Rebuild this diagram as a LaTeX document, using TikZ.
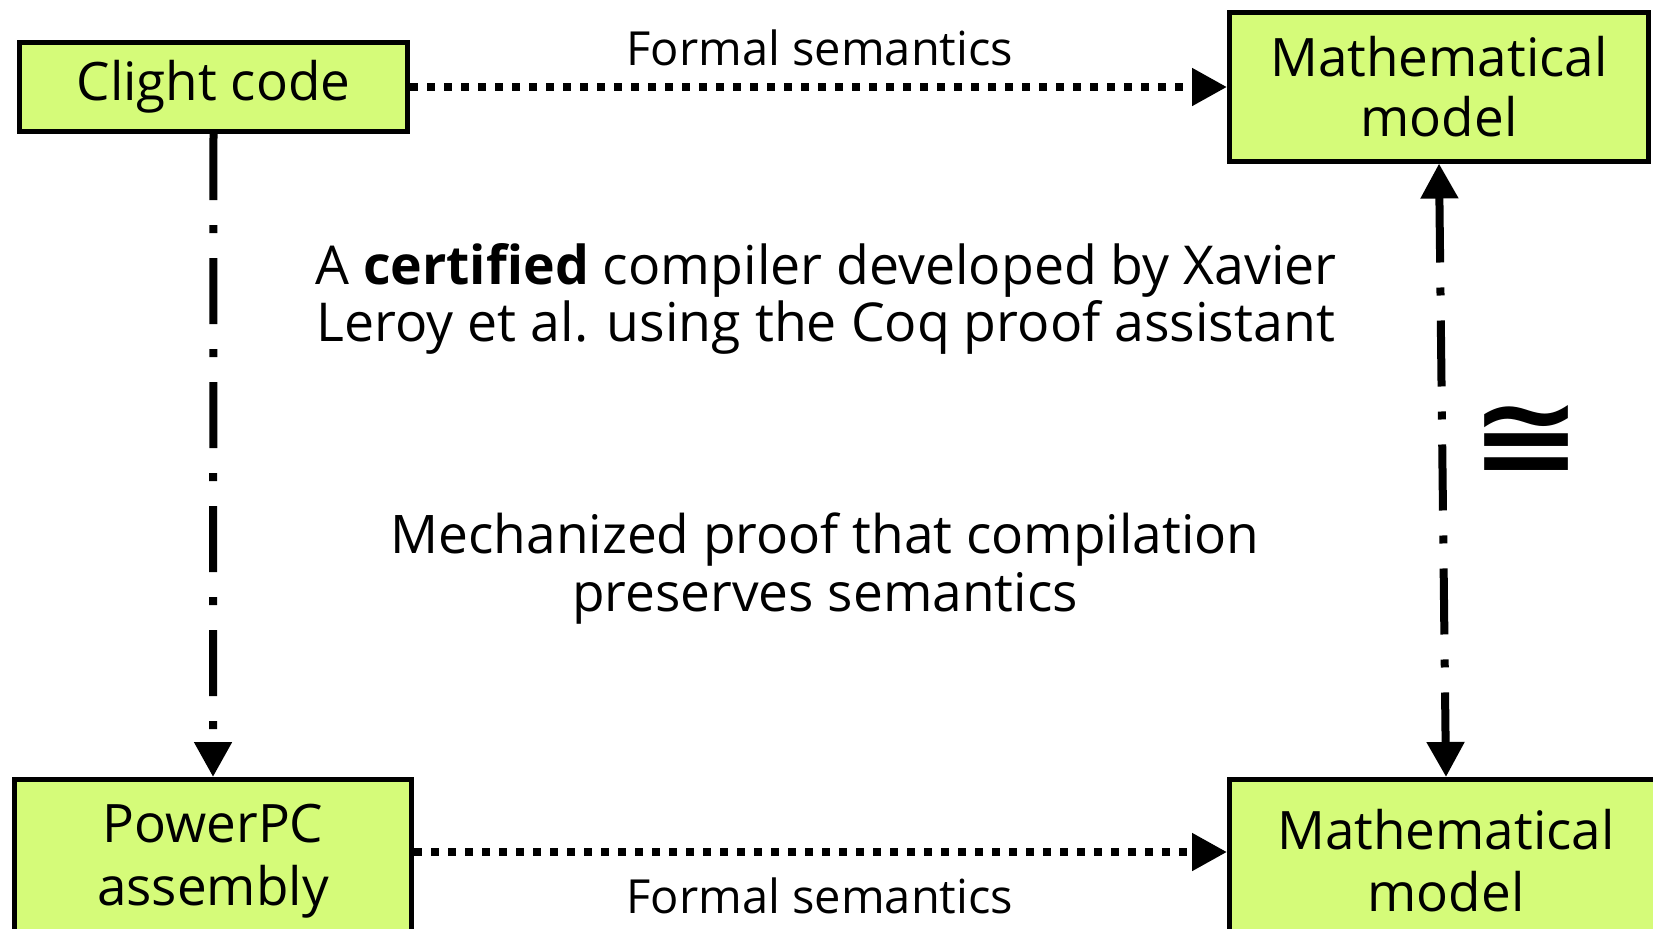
\documentclass[tikz,border=0pt]{standalone}
\usepackage{fontspec}
\setmainfont{Open Sans}
\newfontfamily\symfont{DejaVu Sans}
\usepackage{graphicx}
\usetikzlibrary{arrows.meta}
\definecolor{boxgreen}{HTML}{D5FB79}

\begin{document}
\begin{tikzpicture}[
  x=0.5pt, y=-0.5pt,
  box/.style={draw, fill=boxgreen, line width=2.5pt, rectangle, align=center, inner sep=0pt, font=\fontsize{26.5}{30}\selectfont},
  sem/.style={line width=4pt, dash pattern=on 4pt off 4.5pt, -{Triangle[length=17.5pt, width=18pt]}},
  comp/.style={line width=4pt, dash pattern=on 33pt off 12.5pt on 4pt off 12.5pt, -{Triangle[length=17.5pt, width=18pt]}},
  lbl/.style={align=center, font=\fontsize{23.5}{28.5}\selectfont}
]
\useasboundingbox (0,0) rectangle (1653,928);
\node[box, minimum width=194pt, minimum height=44.5pt] (clight) at (213.5,87) {Clight code};
\node[box, minimum width=209.5pt, minimum height=74.5pt] (mtop) at (1439,86.5) {Mathematical\\model};
\node[box, minimum width=198.5pt, minimum height=81.5pt, font=\fontsize{26.5}{31.5}\selectfont] (ppc) at (213,861) {PowerPC\\assembly};
\node[box, minimum width=216.5pt, minimum height=81.5pt, font=\fontsize{26.5}{31}\selectfont] (mbot) at (1446,861) {Mathematical\\model};
\draw[sem] (clight.east) -- (clight.east -| mtop.west);
\draw[sem] ([yshift=4.5pt]ppc.east) -- ([yshift=4.5pt]ppc.east -| mbot.west);
\draw[comp] (clight.south) -- (ppc.north);
\draw[comp, {Triangle[length=17.5pt, width=18pt]}-{Triangle[length=17.5pt, width=18pt]}] (mtop.south) -- (mbot.north);
\node[lbl] (semtop) at (820,48) {Formal semantics};
\node[lbl] (sembot) at (820,896) {Formal semantics};
\node[lbl, font=\fontsize{26.8}{28.5}\selectfont] (cert) at (826,299) {A \textbf{certified} compiler developed by Xavier\\Leroy et al. using the Coq proof assistant};
\node[lbl, font=\fontsize{26.6}{29}\selectfont] (proof) at (825,569) {Mechanized proof that compilation\\preserves semantics};
\node[inner sep=0pt] (iso) at (1526,440) {\resizebox{56pt}{34.5pt}{\symfont\bfseries ≅}};
\end{tikzpicture}
\end{document}
